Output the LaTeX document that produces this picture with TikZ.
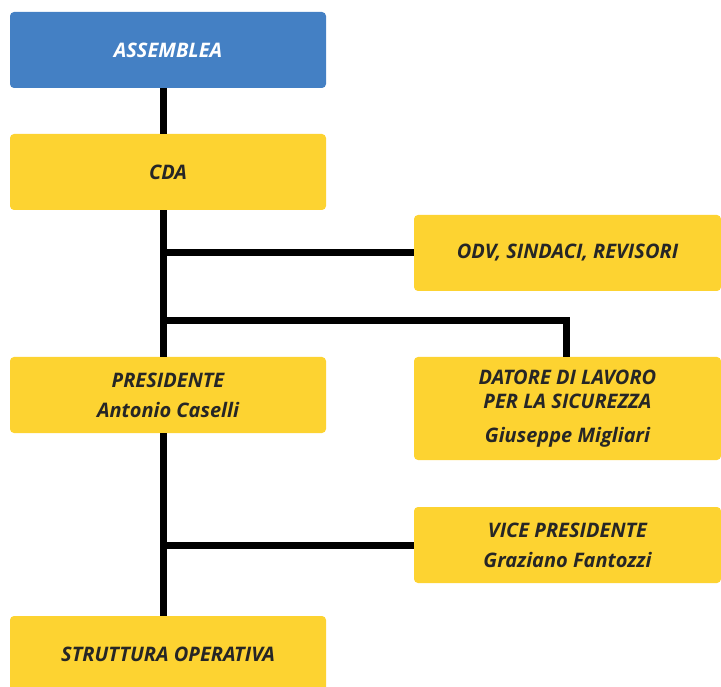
\documentclass[tikz,border=0pt]{standalone}
\usepackage{fontspec}
\setmainfont{Open Sans}
\definecolor{boardblue}{HTML}{4480C4}
\definecolor{roleyellow}{HTML}{FDD331}
\definecolor{inkdark}{HTML}{262626}
\tikzset{
    box/.style={fill=roleyellow, rounded corners=4pt, minimum height=76pt,
        align=center, text=inkdark, font=\fontsize{20}{24}\selectfont\bfseries\itshape,
        inner sep=0pt},
    leftbox/.style={box, minimum width=316pt},
    rightbox/.style={box, minimum width=307pt},
    link/.style={line width=7pt, black, line join=miter}
}
\begin{document}
\begin{tikzpicture}[x=1pt, y=-1pt]
    \useasboundingbox (0,0) rectangle (721,687);

    % Left column
    \node[leftbox, fill=boardblue, text=white] (assemblea) at (168,50) {ASSEMBLEA};
    \node[leftbox] (cda) at (168,172) {CDA};
    \node[leftbox] (presidente) at (168,395) {PRESIDENTE\\[6pt]Antonio Caselli};
    \node[leftbox] (struttura) at (168,654) {STRUTTURA OPERATIVA};

    % Right column
    \node[rightbox] (odv) at (567.5,253) {ODV, SINDACI, REVISORI};
    \node[rightbox, minimum height=103pt] (datore) at (567.5,408.5)
        {DATORE DI LAVORO\\PER LA SICUREZZA\\[10pt]Giuseppe Migliari};
    \node[rightbox] (vice) at (567.5,545) {VICE PRESIDENTE\\[6pt]Graziano Fantozzi};

    % Trunk
    \coordinate (trunk) at (163.5,0);
    \draw[link] (assemblea.south -| trunk) -- (cda.north -| trunk);
    \draw[link] (cda.south -| trunk) -- (presidente.north -| trunk);
    \draw[link] (presidente.south -| trunk) -- (struttura.north -| trunk);

    % Branches
    \draw[link] (trunk |- odv.west) -- (odv.west);
    \coordinate (elbow) at (566.5,321);
    \draw[link] (trunk |- elbow) -- (elbow) -- (elbow |- datore.north);
    \draw[link] (trunk |- vice.west) -- (vice.west);
\end{tikzpicture}
\end{document}
